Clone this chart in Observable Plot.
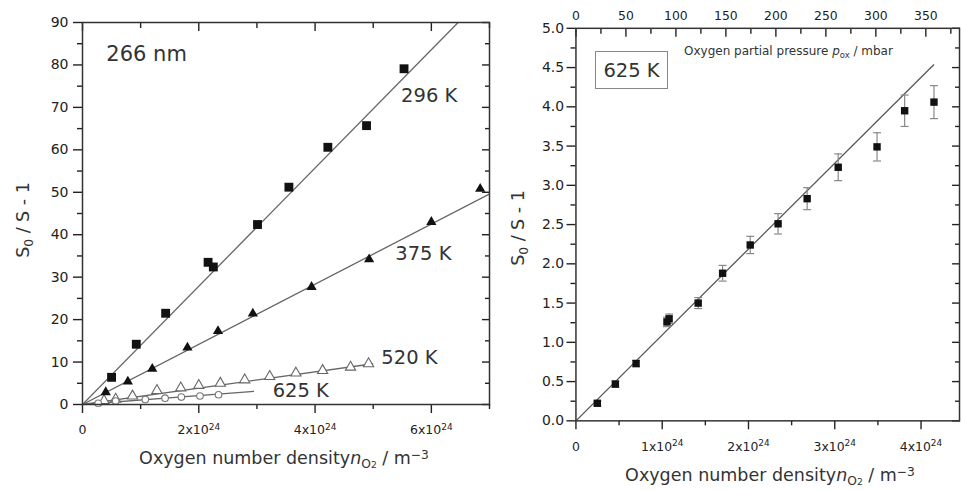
<!DOCTYPE html>
<html><head><meta charset="utf-8">
<script src="https://cdn.jsdelivr.net/npm/d3@7"></script>
<script src="https://cdn.jsdelivr.net/npm/@observablehq/plot@0.6"></script>
<style>
html,body{margin:0;padding:0;overflow:hidden;background:#fff;}
#wrap{position:relative;width:962px;height:490px;overflow:hidden;font-family:"DejaVu Sans",sans-serif;color:#333;}
.pl{position:absolute;top:0;}
.lab{position:absolute;white-space:nowrap;font-size:17.5px;color:#333;line-height:1;}
.rot{transform:translate(-50%,-50%) rotate(-90deg);}
.ctr{transform:translate(-50%,-50%);}
.sub{font-size:0.7em;position:relative;top:0.3em;}
.sup{font-size:0.7em;position:relative;top:-0.45em;}
.box{position:absolute;border:1px solid #888;font-size:19.5px;color:#333;display:flex;align-items:center;justify-content:center;box-sizing:border-box;}
</style></head><body><div id="wrap"></div>
<script>
// ---------- Left panel data (x in units of 1e24 m^-3) ----------
const n296 = [0.5, 0.925, 1.43, 2.16, 2.25, 3.01, 3.55, 4.22, 4.885, 5.53];
const s296 = [6.4, 14.2, 21.5, 33.5, 32.4, 42.4, 51.2, 60.6, 65.7, 79.1];
const n375 = [0.40, 0.78, 1.2, 1.805, 2.33, 2.93, 3.94, 4.93, 6.0, 6.84];
const s375 = [2.9, 5.4, 8.4, 13.4, 17.3, 21.4, 27.7, 34.2, 43.0, 50.8];
const n520 = [0.37, 0.57, 0.86, 1.28, 1.69, 2.0, 2.37, 2.79, 3.22, 3.67, 4.13, 4.61, 4.92];
const s520 = [0.9, 1.25, 2.0, 3.3, 3.9, 4.5, 5.0, 5.8, 6.6, 7.4, 8.0, 8.8, 9.6];
const n625L = [0.27, 0.57, 1.08, 1.42, 1.7, 2.02, 2.34];
const s625L = [0.3, 0.8, 1.2, 1.5, 1.75, 2.0, 2.3];
const fitNames = ["296 K", "375 K", "520 K", "625 K"];
const fitEndN = [6.46, 7.0, 5.0, 2.95];
const fitEndS = [90, 49.6, 9.6, 3.1];
const annoText = ["296 K", "375 K", "520 K", "625 K"];
const annoN = [5.48, 5.38, 5.14, 3.27];
const annoS = [72.8, 35.6, 11.1, 3.3];

// ---------- Right panel data (625 K) ----------
const n625 = [0.248, 0.457, 0.697, 1.055, 1.08, 1.417, 1.70, 2.02, 2.343, 2.68, 3.04, 3.49, 3.81, 4.15];
const s625 = [0.224, 0.468, 0.73, 1.26, 1.30, 1.50, 1.88, 2.24, 2.51, 2.83, 3.23, 3.49, 3.95, 4.06];
const e625 = [0.03, 0.04, 0.04, 0.06, 0.06, 0.07, 0.1, 0.11, 0.13, 0.14, 0.17, 0.18, 0.2, 0.21];
const fitRightN = [4.15];
const fitRightS = [4.54];
const mbarPerUnit = 86.3; // mbar per 1e24 m^-3 at 625 K

// ---------- Ticks ----------
const leftYTicks = [0, 10, 20, 30, 40, 50, 60, 70, 80, 90];
const leftYMinor = [5, 15, 25, 35, 45, 55, 65, 75, 85];
const leftXTicks = [0, 2, 4, 6];
const leftXMinor = [1, 3, 5, 7];
const rightYTicks = [0, 0.5, 1, 1.5, 2, 2.5, 3, 3.5, 4, 4.5, 5];
const rightYMinor = [0.25, 0.75, 1.25, 1.75, 2.25, 2.75, 3.25, 3.75, 4.25, 4.75];
const rightXTicks = [0, 1, 2, 3, 4];
const rightXMinor = [0.5, 1.5, 2.5, 3.5];
const topTicks = [0, 50, 100, 150, 200, 250, 300, 350];
const topMinor = [25, 75, 125, 175, 225, 275, 325, 375];

const rows = (ns, ss) => ns.map((n, i) => ({n, s: ss[i]}));
const r296 = rows(n296, s296), r375 = rows(n375, s375), r520 = rows(n520, s520), r625L = rows(n625L, s625L);
const fits = fitNames.map((k, i) => ({k, n: fitEndN[i], s: fitEndS[i]}));
const anno = annoText.map((t, i) => ({t, n: annoN[i], s: annoS[i]}));
const rR = n625.map((n, i) => ({n, s: s625[i], e: e625[i]}));
const fitR = fitRightN.map((n, i) => ({n, s: fitRightS[i]}));

const sciFmt = d => d === 0 ? "0" : `${d}x10^24`;
const axisColor = "#333";
const tickColor = "#222";
const capSymbol = {draw(ctx, size) { const w = Math.sqrt(size) / 2; ctx.moveTo(-w, 0); ctx.lineTo(w, 0); }};

const common = {style: {fontFamily: "DejaVu Sans, sans-serif", fontSize: "13px", color: tickColor, background: "transparent"}};
const noTxt = () => "";

const left = Plot.plot({
  ...common,
  width: 495, height: 490,
  marginLeft: 82, marginRight: 6, marginTop: 22, marginBottom: 86,
  x: {domain: [0, 7]},
  y: {domain: [0, 90]},
  marks: [
    Plot.axisY({ticks: leftYTicks, tickSize: 9, tickPadding: 5, tickFormat: d => String(d), label: null, strokeWidth: 1.4, fontSize: 14}),
    Plot.axisY({ticks: leftYMinor, tickSize: 5, tickFormat: noTxt, label: null, strokeWidth: 1.4}),
    Plot.axisY({anchor: "right", ticks: leftYTicks, tickSize: -8, tickFormat: noTxt, label: null, strokeWidth: 1.4}),
    Plot.axisY({anchor: "right", ticks: leftYMinor, tickSize: -5, tickFormat: noTxt, label: null, strokeWidth: 1.4}),
    Plot.axisX({ticks: leftXTicks, tickSize: 9, tickPadding: 12, tickFormat: sciFmt, label: null, strokeWidth: 1.4, fontSize: 12.5}),
    Plot.axisX({ticks: leftXMinor, tickSize: 5, tickFormat: noTxt, label: null, strokeWidth: 1.4}),
    Plot.axisX({anchor: "top", ticks: leftXTicks, tickSize: -8, tickFormat: noTxt, label: null, strokeWidth: 1.4}),
    Plot.axisX({anchor: "top", ticks: leftXMinor, tickSize: -5, tickFormat: noTxt, label: null, strokeWidth: 1.4}),
    Plot.link(fits, {x1: () => 0, y1: () => 0, x2: "n", y2: "s", stroke: "#666", strokeWidth: 1.3, clip: true}),
    Plot.dot(r520, {x: "n", y: "s", symbol: "triangle", r: 3.8, fill: "white", stroke: "#666", strokeWidth: 1.1}),
    Plot.dot(r625L, {x: "n", y: "s", symbol: "circle", r: 3.3, fill: "white", stroke: "#777", strokeWidth: 1.1}),
    Plot.dot(r375, {x: "n", y: "s", symbol: "triangle", r: 3.8, fill: "#111", stroke: "none"}),
    Plot.dot(r296, {x: "n", y: "s", symbol: "square", r: 5, fill: "#111", stroke: "none"}),
    Plot.text(anno, {x: "n", y: "s", text: "t", textAnchor: "start", fontSize: 19.5, fill: "#333"}),
    Plot.text(["266 nm"], {x: () => 0.41, y: () => 82.5, text: d => d, textAnchor: "start", fontSize: 21, fill: "#333"}),
    Plot.frame({stroke: axisColor, strokeWidth: 1.5})
  ]
});

const right = Plot.plot({
  ...common,
  width: 478, height: 490,
  marginLeft: 89, marginRight: 3, marginTop: 28, marginBottom: 67,
  x: {domain: [0, 4.446]},
  y: {domain: [0, 5]},
  marks: [
    Plot.axisY({ticks: rightYTicks, tickSize: 9, tickPadding: 3, tickFormat: d3.format(".1f"), label: null, strokeWidth: 1.4, fontSize: 14}),
    Plot.axisY({ticks: rightYMinor, tickSize: 5, tickFormat: noTxt, label: null, strokeWidth: 1.4}),
    Plot.axisY({anchor: "right", ticks: rightYTicks, tickSize: -8, tickFormat: noTxt, label: null, strokeWidth: 1.4}),
    Plot.axisY({anchor: "right", ticks: rightYMinor, tickSize: -5, tickFormat: noTxt, label: null, strokeWidth: 1.4}),
    Plot.axisX({ticks: rightXTicks, tickSize: 9, tickPadding: 12, tickFormat: sciFmt, label: null, strokeWidth: 1.4, fontSize: 12.5}),
    Plot.axisX({ticks: rightXMinor, tickSize: 5, tickFormat: noTxt, label: null, strokeWidth: 1.4}),
    Plot.axisX({anchor: "top", ticks: topTicks.map(p => p / mbarPerUnit), tickSize: -8, tickPadding: 16, tickFormat: d => String(Math.round(d * mbarPerUnit)), label: null, strokeWidth: 1.4, fontSize: 12.5}),
    Plot.axisX({anchor: "top", ticks: topMinor.map(p => p / mbarPerUnit), tickSize: -5, tickFormat: noTxt, label: null, strokeWidth: 1.4}),
    Plot.link(fitR, {x1: () => 0, y1: () => 0, x2: "n", y2: "s", stroke: "#555", strokeWidth: 1.3}),
    Plot.ruleX(rR, {x: "n", y1: d => d.s - d.e, y2: d => d.s + d.e, stroke: "#888", strokeWidth: 1.2}),
    Plot.dot(rR, {x: "n", y: d => d.s + d.e, symbol: capSymbol, r: 4.5, fill: "none", stroke: "#888", strokeWidth: 1.2}),
    Plot.dot(rR, {x: "n", y: d => d.s - d.e, symbol: capSymbol, r: 4.5, fill: "none", stroke: "#888", strokeWidth: 1.2}),
    Plot.dot(rR, {x: "n", y: "s", symbol: "square", r: 4.2, fill: "#111", stroke: "none"}),
    Plot.frame({stroke: axisColor, strokeWidth: 1.5})
  ]
});

// superscript exponents in tick labels
for (const svg of [left, right]) {
  d3.select(svg).selectAll("text").each(function() {
    const t = this.textContent;
    if (t.includes("^")) {
      const [base, exp] = t.split("^");
      const sel = d3.select(this);
      sel.text(null);
      sel.append("tspan").text(base);
      sel.append("tspan").attr("dy", "-0.5em").attr("font-size", "9px").text(exp);
    }
  });
}

const wrap = document.getElementById("wrap");
const dl = document.createElement("div"); dl.className = "pl"; dl.style.left = "0px"; dl.appendChild(left); wrap.appendChild(dl);
const dr = document.createElement("div"); dr.className = "pl"; dr.style.left = "487px"; dr.appendChild(right); wrap.appendChild(dr);

function addLabel(html, x, y, cls, size) {
  const d = document.createElement("div");
  d.className = "lab " + cls;
  d.style.left = x + "px"; d.style.top = y + "px";
  if (size) d.style.fontSize = size + "px";
  d.innerHTML = html;
  wrap.appendChild(d);
}
const yLab = 'S<span class="sub">0</span> / S - 1';
const xLab = 'Oxygen number density<i>n</i><span class="sub">O<span style="font-size:0.75em">2</span></span> / m<span class="sup">−3</span>';
addLabel(yLab, 24, 220, "rot", 17.5);
addLabel(yLab, 519, 228, "rot", 17.5);
addLabel(xLab, 284, 459, "ctr", 17.5);
addLabel(xLab, 770, 476, "ctr", 17.5);
addLabel('Oxygen partial pressure <i>p</i><span class="sub">ox</span> / mbar', 684, 45, "", 12);
const box = document.createElement("div");
box.className = "box";
box.style.left = "595px"; box.style.top = "51px"; box.style.width = "73px"; box.style.height = "38px";
box.textContent = "625 K";
wrap.appendChild(box);
</script>
</body></html>
